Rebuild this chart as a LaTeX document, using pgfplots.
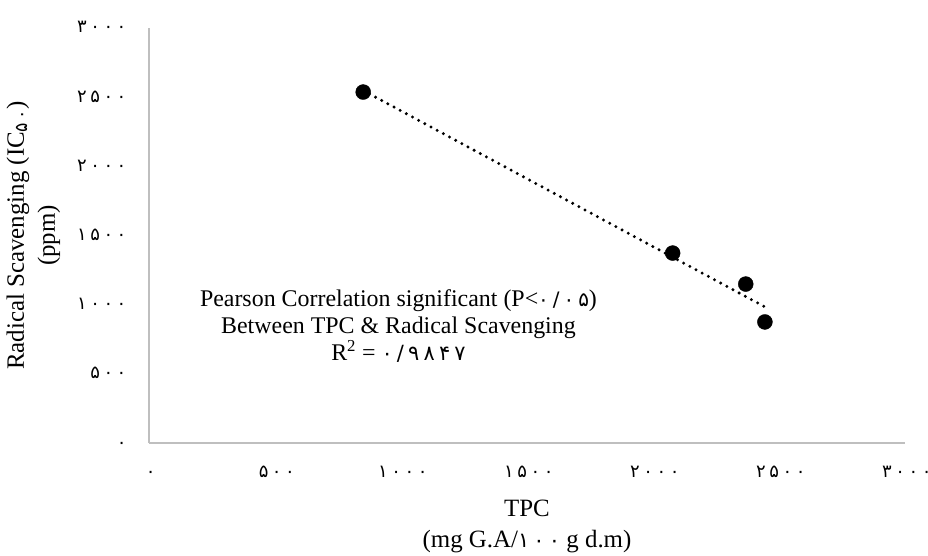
\documentclass[border=0pt]{standalone}
\usepackage{fontspec}
\setmainfont{Liberation Serif}
\newfontfamily\fa[Script=Arabic,LetterSpace=20]{DejaVu Sans}
\newcommand\fn[1]{#1\kern-0.2em}
\usepackage{pgfplots}
\usepackage{pgfplotstable}
\pgfplotsset{compat=1.18}

% TPC against radical scavenging (IC50)
\pgfplotstableread{
x    y
850  2537
2078 1373
2368 1149
2444 875
}\tpcdata

\begin{document}
\begin{tikzpicture}
\path[use as bounding box] (-149bp,-113bp) rectangle (779bp,443bp);
\begin{axis}[
    at={(0,0)}, anchor=south west,
    scale only axis, width=756bp, height=415bp,
    xmin=0, xmax=3000, ymin=0, ymax=3000,
    axis x line=bottom, axis y line=left,
    axis line style={-, draw=gray!50, line width=1.5bp},
    major tick length=0pt,
    xtick={0,500,...,3000}, ytick={0,500,...,3000},
    xticklabels={\fn{۰},\fn{۵۰۰},\fn{۱۰۰۰},\fn{۱۵۰۰},\fn{۲۰۰۰},\fn{۲۵۰۰},\fn{۳۰۰۰}},
    yticklabels={\fn{۰},\fn{۵۰۰},\fn{۱۰۰۰},\fn{۱۵۰۰},\fn{۲۰۰۰},\fn{۲۵۰۰},\fn{۳۰۰۰}},
    every tick label/.append style={font=\fa\fontsize{18}{21}\selectfont},
    xticklabel style={anchor=base, inner sep=0pt, yshift=-34bp},
    yticklabel style={anchor=base east, inner sep=0pt, xshift=-26bp, yshift=-5bp},
    xlabel={TPC\\(mg G.A/{\fa\fontsize{21}{25}\selectfont ۱۰۰} g d.m)},
    ylabel={Radical Scavenging (IC\textsubscript{\fa ۵۰})\\(ppm)},
    label style={font=\fontsize{25}{31}\selectfont, align=center},
    xlabel style={at={(axis description cs:0.5,-0.2)}, anchor=center},
    ylabel style={at={(axis description cs:-0.153,0.5)}, anchor=center},
]
\addplot[black, line width=3.3bp, line cap=round, dash pattern=on 0pt off 7bp]
    table[x=x, y={create col/linear regression={y=y}}] {\tpcdata};
\addplot[only marks, mark=*, mark size=7.5bp, black] table[x=x, y=y] {\tpcdata};
\node[align=center, font=\fontsize{24}{27}\selectfont] at (axis cs:990,846)
    {Pearson Correlation significant (P<{\fa\fontsize{20}{24}\selectfont ۰/۰۵})\\
     Between TPC \& Radical Scavenging\\
     R\textsuperscript{2} = {\fa\fontsize{21}{24}\selectfont ۰/۹۸۴۷}};
\end{axis}
\end{tikzpicture}
\end{document}
